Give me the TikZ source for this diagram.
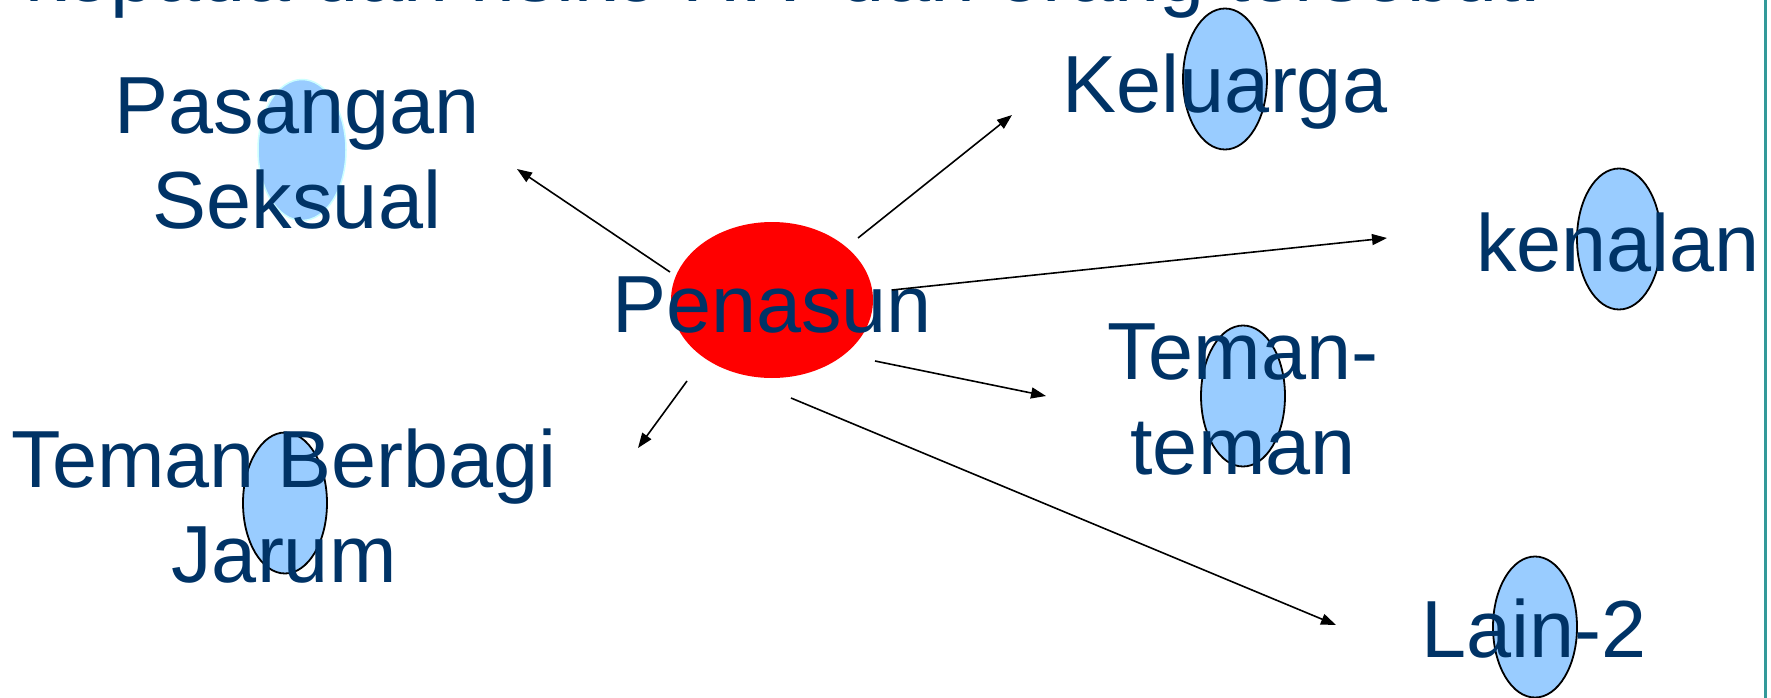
\documentclass[tikz,border=0pt]{standalone}
\usepackage{fontspec}
\setmainfont{Liberation Sans}
\usetikzlibrary{shapes.geometric,arrows.meta}
\definecolor{navy}{HTML}{003366}
\definecolor{bluefill}{HTML}{99CCFF}
\definecolor{palecyan}{HTML}{CCFFFF}
\definecolor{tealline}{HTML}{339999}
\begin{document}
\begin{tikzpicture}[x=1pt,y=-1pt,
  blob/.style={ellipse, draw=black, line width=1.8pt, fill=bluefill, inner sep=0pt, minimum width=84pt, minimum height=141pt},
  lbl/.style={text=navy, font=\fontsize{81}{95}\selectfont, inner sep=0pt, anchor=base, align=center},
  arr/.style={line width=1.6pt, -{Triangle[length=15pt,width=11pt]}}]
\useasboundingbox (0,0) rectangle (1771,698);
\clip (0,0) rectangle (1771,698);
\fill[white] (0,0) rectangle (1771,698);
\node[lbl, anchor=base west] (top) at (25,2) {kepada dan risiko HIV dari orang tersebut.};
\coordinate (t1) at (1765.5,0);
\coordinate (t2) at (1765.5,698);
\draw[tealline, line width=3pt] (t1) -- (t2);
% ellipses
\node[ellipse, fill=red, minimum width=202pt, minimum height=156pt, inner sep=0pt] (penE) at (772,300) {};
\node[blob, draw=palecyan, line width=1.5pt, minimum width=88pt] (pasE) at (302,150) {};
\node[blob] (kelE) at (1225,79) {};
\node[blob] (kenE) at (1619,239) {};
\node[blob] (temE) at (1243,396) {};
\node[blob] (jarE) at (285,503) {};
\node[blob] (laiE) at (1535,627) {};
% texts (base anchor = baseline of last line)
\node[lbl] (pen) at (772,332) {Penasun};
\node[lbl] (pas) at (297,228) {Pasangan\\Seksual};
\node[lbl] (kel) at (1225,113) {Keluarga};
\node[lbl] (ken) at (1618,271) {kenalan};
\node[lbl] (tem) at (1243,474) {Teman-\\teman};
\node[lbl] (jar) at (284,582) {Teman Berbagi\\Jarum};
\node[lbl] (lai) at (1534,657) {Lain-2};
% arrows
\coordinate (a1s) at (670,272); \coordinate (a1e) at (517,169);
\coordinate (a2s) at (858,238); \coordinate (a2e) at (1012,115);
\coordinate (a3s) at (892,290); \coordinate (a3e) at (1387,238);
\coordinate (a4s) at (875,361); \coordinate (a4e) at (1046,396);
\coordinate (a5s) at (791,398); \coordinate (a5e) at (1336,625);
\coordinate (a6s) at (687,381); \coordinate (a6e) at (638,448);
\draw[arr] (a1s) -- (a1e);
\draw[arr] (a2s) -- (a2e);
\draw[arr] (a3s) -- (a3e);
\draw[arr] (a4s) -- (a4e);
\draw[arr] (a5s) -- (a5e);
\draw[arr] (a6s) -- (a6e);
\end{tikzpicture}
\end{document}
